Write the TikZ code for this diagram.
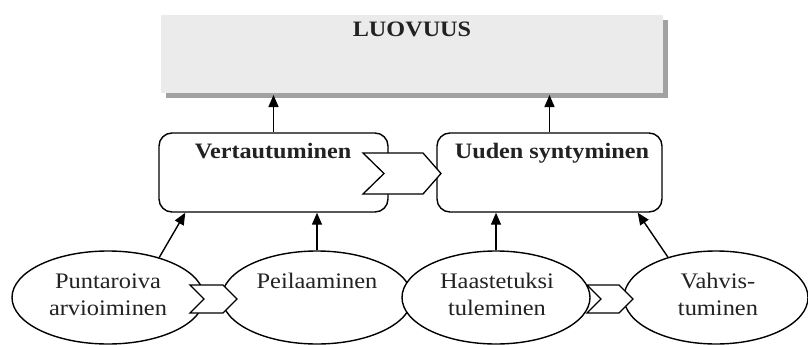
\documentclass[tikz,border=0pt]{standalone}
\usepackage{fontspec}
\setmainfont{Liberation Serif}[FakeStretch=1.1]
\usetikzlibrary{shapes.geometric,arrows.meta,calc}

\definecolor{ink}{HTML}{222222}
\definecolor{panelgray}{HTML}{EBEBEB}
\definecolor{dropgray}{HTML}{A2A2A2}

\tikzset{
  txt/.style={font=\fontsize{22.2}{27}\selectfont, text=ink, inner sep=0pt, anchor=base, align=center},
  btxt/.style={txt, font=\fontsize{22}{27}\selectfont\bfseries},
  stagebox/.style={draw, line width=1.4pt, rounded corners=13pt, fill=white, inner sep=0pt},
  oval/.style={ellipse, draw, line width=1.4pt, fill=white, inner sep=0pt},
  arr/.style={line width=1.4pt, -{Triangle[length=12pt,width=10pt]}},
  chev/.style={draw, fill=white, line width=1.3pt, line join=miter}
}

\begin{document}
\begin{tikzpicture}[x=1pt,y=-1pt]
\useasboundingbox (0,0) rectangle (808,345);

% top panel with its drop shadow
\fill[dropgray] (166,20) rectangle (668,98);
\fill[panelgray] (161,15) rectangle (663,93);
\node[inner sep=0pt, outer sep=0pt, minimum width=502pt, minimum height=78pt] (luo) at (412,54) {};
\node[btxt] (luoT) at (412,36.5) {LUOVUUS};

% middle stages
\node[stagebox, minimum width=229pt, minimum height=79pt] (vert) at (273.5,172.5) {};
\node[stagebox, minimum width=225pt, minimum height=79pt] (uud) at (549.5,172.5) {};
\node[btxt] (vertT) at (273,158) {Vertautuminen};
\node[btxt] (uudT) at (552,158) {Uuden syntyminen};

% arrows into the top panel
\draw[arr] (vert.north) -- ([yshift=-2pt]vert.north |- luo.south);
\draw[arr] (uud.north) -- ([yshift=-2pt]uud.north |- luo.south);

% chevron between the middle stages
\draw[chev] (363,153) -- (423,153) -- (441,173.5) -- (423,194) -- (363,194) -- (384,173.5) -- cycle;

% bottom ovals and the chevrons between them
\node[oval, minimum width=192pt, minimum height=93pt] (punt) at (108,297.5) {};
\node[oval, minimum width=190pt, minimum height=93pt] (peil) at (317,297.5) {};
\draw[chev] (190,285) -- (223,285) -- (237,299) -- (223,313) -- (190,313) -- (204,299) -- cycle;
\node[oval, minimum width=184pt, minimum height=93pt] (vahv) at (716,297.5) {};
\draw[chev] (587,285) -- (619,285) -- (633,299) -- (619,313) -- (587,313) -- (601,299) -- cycle;
\node[oval, minimum width=188pt, minimum height=93pt] (haas) at (496,297.5) {};

% oval labels (anchored at the baseline of the last line)
\node[txt] (puntT) at (108,315) {Puntaroiva\\arvioiminen};
\node[txt] (peilT) at (317,288) {Peilaaminen};
\node[txt] (haasT) at (497,315) {Haastetuksi\\tuleminen};
\node[txt] (vahvT) at (718,315) {Vahvis-\\tuminen};

% arrows from the ovals to the stages
\draw[arr] (punt.38) -- ([xshift=27pt]vert.south west);
\draw[arr] (peil.north) -- (peil.north |- vert.south);
\draw[arr] (haas.north) -- (haas.north |- uud.south);
\draw[arr] (vahv.140) -- ([xshift=-25pt]uud.south east);
\end{tikzpicture}
\end{document}
